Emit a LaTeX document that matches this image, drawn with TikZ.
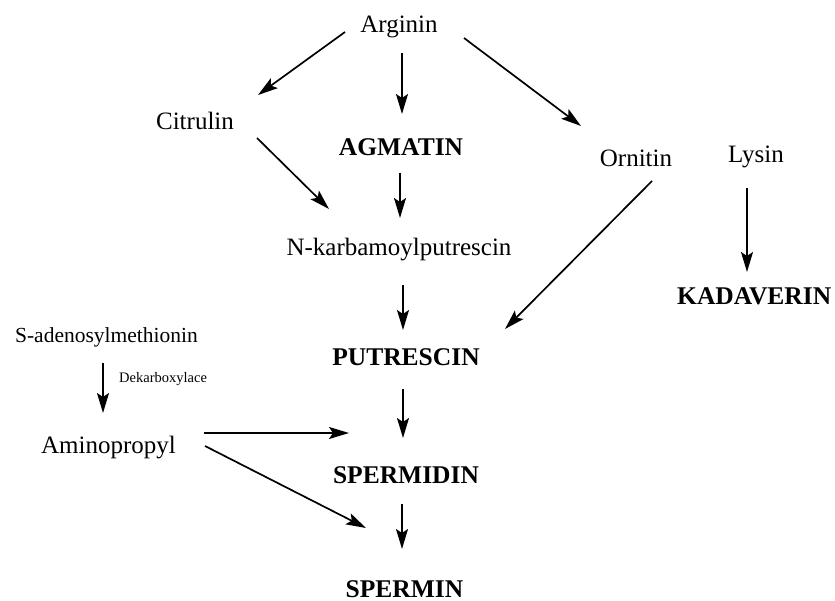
\documentclass[tikz,border=0pt]{standalone}
\usepackage{fontspec}
\setmainfont{Liberation Serif}
\usetikzlibrary{arrows.meta}
\tikzset{
  lbl/.style={font=\fontsize{25}{30}\selectfont, inner sep=0pt, anchor=base},
  blbl/.style={font=\fontsize{25.5}{30}\selectfont\bfseries, inner sep=0pt, anchor=base},
  arr/.style={-{Stealth[length=20pt,width=12pt,inset=4pt]}, line width=1.7pt}
}
\begin{document}
\begin{tikzpicture}[x=1pt,y=-1pt]
\useasboundingbox (0,0) rectangle (835,601);
\node[lbl] (arg) at (399,33) {Arginin};
\node[lbl] (cit) at (195,130) {Citrulin};
\node[blbl] (agm) at (401,156) {AGMATIN};
\node[lbl] (orn) at (636,167) {Ornitin};
\node[lbl] (lys) at (756,163) {Lysin};
\node[lbl] (nkp) at (399,256) {N-karbamoylputrescin};
\node[blbl, anchor=base west] (kad) at (677,305) {KADAVERIN};
\node[lbl, font=\fontsize{21.5}{26}\selectfont] (sam) at (106.5,343) {S-adenosylmethionin};
\node[lbl, font=\fontsize{14.5}{17}\selectfont, anchor=base west] (dek) at (119,382) {Dekarboxylace};
\node[blbl] (put) at (406,366) {PUTRESCIN};
\node[lbl] (ami) at (108.5,453) {Aminopropyl};
\node[blbl] (spd) at (406,483) {SPERMIDIN};
\node[blbl] (spm) at (404.5,597) {SPERMIN};

\draw[arr] ([shift={(-54,-1)}]arg.base) -- ([shift={(63,-35)}]cit.base);
\draw[arr] ([shift={(3,20)}]arg.base) -- ([shift={(1,-42)}]agm.base);
\draw[arr] ([shift={(65,5)}]arg.base) -- ([shift={(-55,-41)}]orn.base);
\draw[arr] ([shift={(62,8)}]cit.base) -- ([shift={(-70,-47)}]nkp.base);
\draw[arr] ([shift={(-1,17)}]agm.base) -- ([shift={(1,-38)}]nkp.base);
\draw[arr] ([shift={(4,29)}]nkp.base) -- ([shift={(-3,-36)}]put.base);
\draw[arr] ([shift={(16,14)}]orn.base) -- ([shift={(99,-37)}]put.base);
\draw[arr] ([shift={(-9,25)}]lys.base) -- ([shift={(70,-33)}]kad.base west);
\draw[arr] ([shift={(-3.5,20)}]sam.base) -- ([shift={(-5.5,-40)}]ami.base);
\draw[arr] ([shift={(-3,23)}]put.base) -- ([shift={(-3,-45)}]spd.base);
\draw[arr] ([shift={(95.5,-20)}]ami.base) -- ([shift={(-57,-50)}]spd.base);
\draw[arr] ([shift={(96.5,-7)}]ami.base) -- ([shift={(-38.5,-69)}]spm.base);
\draw[arr] ([shift={(-4,21)}]spd.base) -- ([shift={(-2.5,-48)}]spm.base);
\end{tikzpicture}
\end{document}
